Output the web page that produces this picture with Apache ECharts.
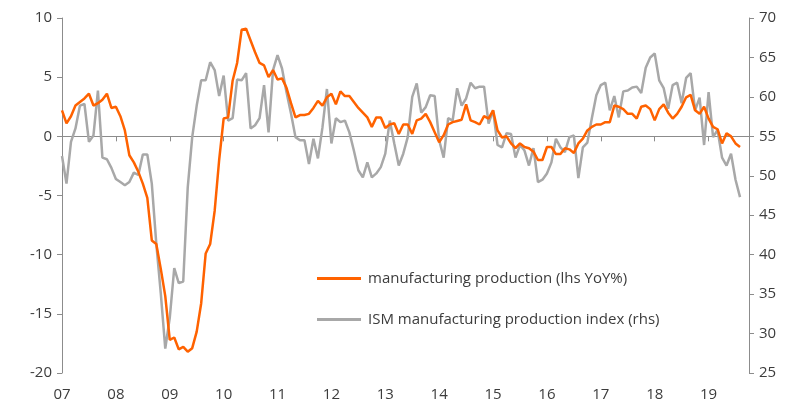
<!DOCTYPE html>
<html>
<head>
<meta charset="utf-8">
<script src="https://cdn.jsdelivr.net/npm/echarts@6/dist/echarts.min.js"></script>
<style>
  html, body { margin: 0; padding: 0; background: #fff; }
  #chart { width: 800px; height: 412px; }
</style>
</head>
<body>
<div id="chart"></div>
<script>
// monthly, Jan 2007 .. Aug 2019 (categories padded two months to leave room at the right)
const years = ['07','08','09','10','11','12','13','14','15','16','17','18','19'];
const months = [];
for (let y = 2007; y <= 2019; y++) {
  for (let m = 1; m <= 12; m++) {
    if (y === 2019 && m > 10) break;
    months.push(y + '-' + (m < 10 ? '0' + m : m));
  }
}

const manufacturing = [
  2.2, 1.1, 1.7, 2.6, 2.9, 3.2, 3.6, 2.6, 2.8, 3.1, 3.6, 2.4,
  2.5, 1.7, 0.5, -1.6, -2.2, -3.0, -4.0, -5.2, -8.8, -9.1, -11.2, -13.5,
  -17.2, -17.0, -18.0, -17.8, -18.2, -17.9, -16.5, -14.1, -9.9, -9.1, -6.3, -2.0,
  1.5, 1.6, 4.7, 6.2, 9.0, 9.1, 8.1, 7.1, 6.2, 6.0, 5.0, 5.6,
  4.8, 4.9, 4.1, 2.8, 1.6, 1.8, 1.8, 1.9, 2.4, 3.0, 2.6, 3.3,
  3.6, 2.7, 3.8, 3.4, 3.4, 2.9, 2.4, 2.0, 1.6, 0.8, 1.6, 1.6,
  0.7, 1.0, 1.1, 0.2, 1.0, 1.0, 0.2, 1.35, 1.5, 1.9, 1.2, 0.35,
  -0.5, 0.1, 1.0, 1.2, 1.3, 1.4, 2.7, 1.35, 1.2, 1.0, 1.7, 1.5,
  2.2, 0.5, -0.1, 0.0, -0.6, -1.0, -0.6, -0.9, -1.0, -1.3, -2.0, -2.0,
  -0.9, -0.9, -1.5, -1.5, -1.0, -1.1, -1.4, -0.6, -0.2, 0.5, 0.8, 1.0,
  1.0, 1.2, 1.2, 2.6, 2.5, 2.3, 1.9, 1.9, 1.5, 2.5, 2.6, 2.3,
  1.35, 2.3, 2.7, 2.0, 1.5, 1.9, 2.5, 3.3, 3.5, 2.2, 1.9, 2.5,
  1.5, 0.8, 0.6, -0.6, 0.25, 0.0, -0.6, -0.9
];

const ism = [
  52.5, 49.0, 54.3, 56.0, 58.9, 59.1, 54.3, 55.1, 60.8, 52.3, 52.1, 51.0,
  49.6, 49.2, 48.8, 49.2, 50.4, 50.1, 52.7, 52.7, 49.0, 41.4, 35.1, 28.1,
  32.0, 38.3, 36.4, 36.6, 48.5, 54.9, 58.9, 62.1, 62.1, 64.4, 63.4, 60.1,
  62.7, 57.0, 57.3, 62.2, 62.1, 63.0, 56.0, 56.4, 57.3, 61.5, 55.5, 63.4,
  65.3, 63.6, 60.6, 57.9, 54.9, 54.5, 54.5, 51.5, 54.7, 52.2, 56.1, 61.0,
  54.1, 57.3, 56.8, 57.0, 55.5, 53.2, 50.7, 49.8, 51.7, 49.8, 50.3, 51.1,
  52.8, 57.0, 54.1, 51.3, 52.8, 54.9, 60.0, 61.7, 58.0, 58.7, 60.2, 60.1,
  54.5, 52.3, 57.3, 57.0, 61.1, 58.9, 59.8, 61.8, 61.1, 61.3, 61.3, 56.6,
  58.3, 53.9, 53.6, 55.4, 55.3, 52.3, 53.9, 53.2, 51.3, 53.5, 49.2, 49.5,
  50.3, 51.7, 54.7, 53.6, 53.0, 54.9, 55.1, 49.7, 53.6, 54.2, 57.3, 60.2,
  61.5, 61.8, 58.3, 60.1, 57.4, 60.7, 60.8, 61.2, 61.3, 60.5, 63.7, 65.0,
  65.5, 62.1, 61.1, 58.5, 61.5, 61.8, 59.2, 62.4, 63.0, 58.3, 59.9, 53.9,
  60.6, 54.9, 55.8, 52.3, 51.3, 52.8, 49.5, 47.3
];

const FONT = 'Open Sans';
const TXT = '#3c3c3c';
const AX = '#8c8c8c';

const chart = echarts.init(document.getElementById('chart'));
chart.setOption({
  animation: false,
  grid: { left: 62, right: 51, top: 18, bottom: 39 },
  legend: {
    orient: 'vertical',
    left: 312,
    top: 266,
    itemWidth: 44,
    itemHeight: 3,
    itemGap: 26,
    icon: 'rect',
    textStyle: { fontFamily: FONT, fontSize: 15, color: TXT, padding: [0, 0, 0, 2] },
    data: ['manufacturing production (lhs YoY%)', 'ISM manufacturing production index (rhs)']
  },
  xAxis: [
    {
      type: 'category',
      data: months,
      boundaryGap: false,
      axisLine: { onZero: true, lineStyle: { color: AX, width: 1 } },
      axisTick: { show: true, inside: false, length: 5, lineStyle: { color: AX },
                  interval: (i) => i % 12 === 0 && i > 0 },
      axisLabel: { show: false }
    },
    {
      type: 'category',
      data: months,
      boundaryGap: false,
      position: 'bottom',
      axisLine: { show: false },
      axisTick: { show: false },
      axisLabel: {
        interval: (i) => i % 12 === 0,
        formatter: (v) => years[parseInt(v.slice(0, 4), 10) - 2007],
        fontFamily: FONT, fontSize: 15, color: TXT, margin: 14
      }
    }
  ],
  yAxis: [
    {
      type: 'value', min: -20, max: 10, interval: 5,
      axisLine: { show: true, lineStyle: { color: AX } },
      axisTick: { show: true, length: 5, lineStyle: { color: AX } },
      splitLine: { show: false },
      axisLabel: { fontFamily: FONT, fontSize: 15, color: TXT, margin: 10 }
    },
    {
      type: 'value', min: 25, max: 70, interval: 5,
      position: 'right',
      axisLine: { show: true, lineStyle: { color: AX } },
      axisTick: { show: true, length: 5, lineStyle: { color: AX } },
      splitLine: { show: false },
      axisLabel: { fontFamily: FONT, fontSize: 15, color: TXT, margin: 10 }
    }
  ],
  series: [
    {
      name: 'ISM manufacturing production index (rhs)',
      type: 'line',
      xAxisIndex: 0,
      yAxisIndex: 1,
      data: ism,
      showSymbol: false,
      color: '#a8a8a8',
      lineStyle: { width: 2.5, color: '#a8a8a8' },
      z: 2
    },
    {
      name: 'manufacturing production (lhs YoY%)',
      type: 'line',
      xAxisIndex: 0,
      yAxisIndex: 0,
      data: manufacturing,
      showSymbol: false,
      color: '#ff6200',
      lineStyle: { width: 2.5, color: '#ff6200' },
      z: 3
    }
  ]
});
</script>
</body>
</html>
